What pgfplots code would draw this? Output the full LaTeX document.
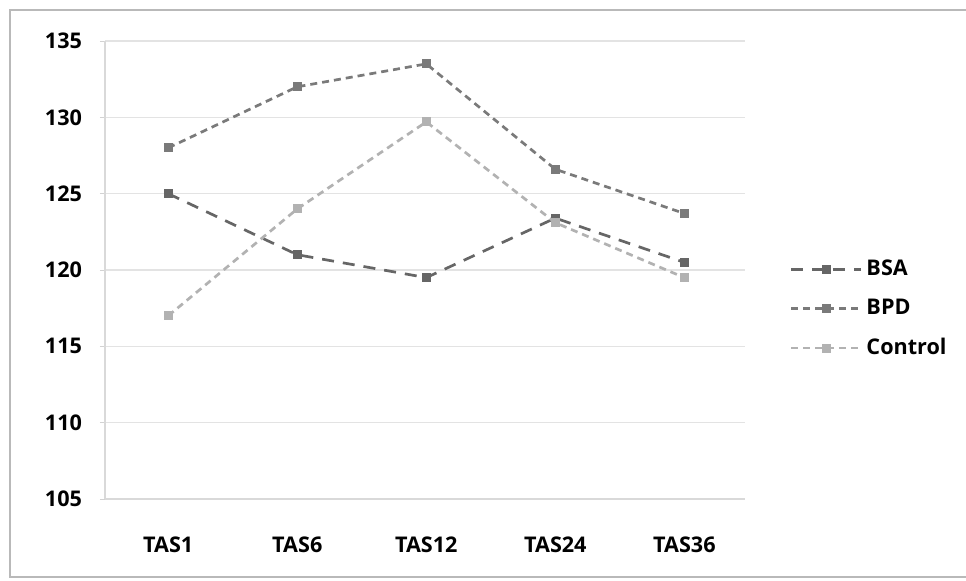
\documentclass[border=0pt]{standalone}
\usepackage{pgfplots}
\pgfplotsset{compat=1.18}
\usepackage{fontspec}
\setmainfont{Open Sans}
\begin{document}
\begin{tikzpicture}
\useasboundingbox (0,0) rectangle (483pt,290.5pt);
% outer frame of the chart area
\draw[gray!55, line width=0.8pt] (483pt,285.5pt) -- (5pt,285.5pt) -- (5pt,2pt) -- (483pt,2pt);
\begin{axis}[
  at={(52.5pt,41pt)}, anchor=south west,
  scale only axis, width=320pt, height=229pt,
  xmin=-0.49, xmax=4.47, ymin=105, ymax=135,
  xtick={0,1,2,3,4},
  xticklabels={TAS1,TAS6,TAS12,TAS24,TAS36},
  minor xtick={0.5,1.5,2.5,3.5},
  ytick={105,110,...,135},
  ymajorgrids,
  grid style={gray!22, line width=0.6pt},
  axis x line*=bottom, axis y line*=left,
  axis line style={gray!30, line width=0.6pt},
  tick align=outside,
  major tick length=2.5pt, minor tick length=2pt,
  xtick style={draw=none},
  minor tick style={gray!35},
  ytick style={gray!35},
  tick label style={font=\bfseries\fontsize{10.8}{12}\selectfont, black},
  /pgf/number format/assume math mode=true,
  yticklabel style={xshift=-5.5pt},
  xticklabel style={yshift=-13pt},
  legend cell align=left,
  legend style={draw=none, fill=none, at={(1.06,0.415)}, anchor=west,
    font=\bfseries\fontsize{10.8}{12}\selectfont, row sep=6.3pt},
  legend image code/.code={
    \draw[#1, mark repeat=2, mark phase=2] plot coordinates {(0pt,0pt) (17.5pt,0pt) (35pt,0pt)};},
]
\addplot[black!60, line width=1.35pt, dash pattern=on 6pt off 4.5pt,
  mark=square*, mark size=1.6pt, mark options={solid}]
  coordinates {(0,125) (1,121) (2,119.5) (3,123.4) (4,120.5)};
\addlegendentry{BSA}
\addplot[black!52, line width=1.35pt, dash pattern=on 3.5pt off 2.5pt,
  mark=square*, mark size=1.6pt, mark options={solid}]
  coordinates {(0,128) (1,132) (2,133.5) (3,126.6) (4,123.7)};
\addlegendentry{BPD}
\addplot[black!30, line width=1.35pt, dash pattern=on 3.5pt off 2.5pt,
  mark=square*, mark size=1.6pt, mark options={solid}]
  coordinates {(0,117) (1,124) (2,129.7) (3,123.1) (4,119.5)};
\addlegendentry{Control}
\end{axis}
\end{tikzpicture}
\end{document}
